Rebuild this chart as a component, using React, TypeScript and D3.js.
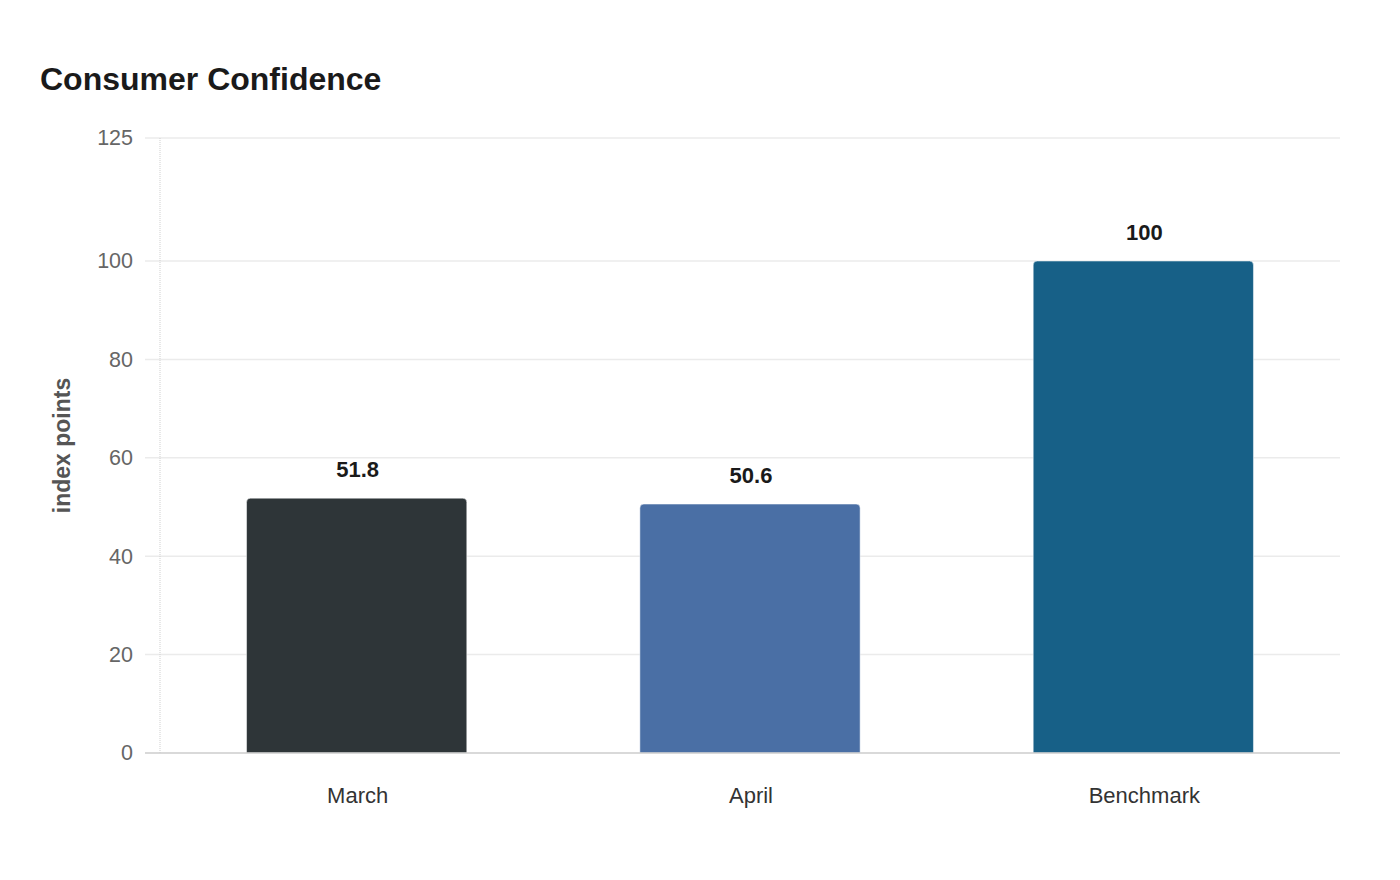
import React, { useEffect, useRef } from 'react';
import * as d3 from 'd3';

const categories = ['March', 'April', 'Benchmark'];
const values = [51.8, 50.6, 100];
const barColors = ['#2e3538', '#4a6fa5', '#176087'];
const yTicks = [0, 20, 40, 60, 80, 100, 125];

const WIDTH = 1400;
const HEIGHT = 880;
const FONT = '"Liberation Sans", Arial, sans-serif';

export default function App() {
  const svgRef = useRef<SVGSVGElement>(null);

  useEffect(() => {
    if (!svgRef.current) return;
    const svg = d3.select(svgRef.current);
    svg.selectAll('*').remove();

    const margin = { top: 138, right: 60, bottom: 127, left: 160 };
    const innerWidth = WIDTH - margin.left - margin.right;
    const innerHeight = HEIGHT - margin.top - margin.bottom;

    svg.append('rect').attr('width', WIDTH).attr('height', HEIGHT).attr('fill', '#ffffff');

    // Title
    svg.append('text')
      .attr('x', 40)
      .attr('y', 90)
      .attr('font-family', FONT)
      .attr('font-size', 32)
      .attr('font-weight', 'bold')
      .attr('fill', '#1a1a1a')
      .text('Consumer Confidence');

    const g = svg.append('g').attr('transform', `translate(${margin.left},${margin.top})`);

    const x = d3.scaleBand<string>()
      .domain(categories)
      .range([0, innerWidth])
      .paddingInner(0.44)
      .paddingOuter(0.22);

    const y = d3.scaleLinear().domain([0, 125]).range([innerHeight, 0]);

    // Grid lines
    g.append('g')
      .selectAll('line')
      .data(yTicks.filter(t => t !== 0))
      .enter()
      .append('line')
      .attr('x1', -15)
      .attr('x2', innerWidth)
      .attr('y1', d => y(d))
      .attr('y2', d => y(d))
      .attr('stroke', '#ebebeb')
      .attr('stroke-width', 1.5);

    // Y axis line (dotted, light)
    g.append('line')
      .attr('x1', 0)
      .attr('x2', 0)
      .attr('y1', 0)
      .attr('y2', innerHeight)
      .attr('stroke', '#cfcfcf')
      .attr('stroke-width', 1)
      .attr('stroke-dasharray', '1,1');

    // Y tick labels
    const yAxis = d3.axisLeft(y).tickValues(yTicks).tickSize(0).tickPadding(27);
    g.append('g')
      .call(yAxis)
      .call(sel => sel.select('.domain').remove())
      .call(sel => sel.selectAll('.tick text')
        .attr('fill', '#666666')
        .attr('font-size', 21.5)
        .attr('font-family', FONT));

    // Bars with rounded top corners
    const r = 4;
    g.append('g')
      .selectAll('path')
      .data(categories)
      .enter()
      .append('path')
      .attr('d', (c, i) => {
        const x0 = x(c) as number;
        const x1 = x0 + x.bandwidth();
        const y0 = y(values[i]);
        const yb = y(0);
        return `M${x0},${yb} L${x0},${y0 + r} Q${x0},${y0} ${x0 + r},${y0} L${x1 - r},${y0} Q${x1},${y0} ${x1},${y0 + r} L${x1},${yb} Z`;
      })
      .attr('fill', (_c, i) => barColors[i])
      .attr('stroke', '#ffffff')
      .attr('stroke-opacity', 0.5)
      .attr('stroke-width', 1);

    // Baseline
    g.append('line')
      .attr('x1', -15)
      .attr('x2', innerWidth)
      .attr('y1', y(0))
      .attr('y2', y(0))
      .attr('stroke', '#cccccc')
      .attr('stroke-width', 1.5);

    // Value labels
    g.append('g')
      .selectAll('text')
      .data(categories)
      .enter()
      .append('text')
      .attr('x', c => (x(c) as number) + x.bandwidth() / 2 + 1)
      .attr('y', (_c, i) => y(values[i]) - 21)
      .attr('text-anchor', 'middle')
      .attr('font-family', FONT)
      .attr('font-size', 22)
      .attr('font-weight', 'bold')
      .attr('fill', '#1a1a1a')
      .text((_c, i) => String(values[i]));

    // Category labels
    const xAxis = d3.axisBottom(x).tickSize(0).tickPadding(34);
    g.append('g')
      .attr('transform', `translate(1,${innerHeight})`)
      .call(xAxis)
      .call(sel => sel.select('.domain').remove())
      .call(sel => sel.selectAll('.tick text')
        .attr('fill', '#333333')
        .attr('font-size', 22)
        .attr('font-family', FONT));

    // Y axis title
    svg.append('text')
      .attr('transform', `translate(70,${margin.top + innerHeight / 2}) rotate(-90)`)
      .attr('text-anchor', 'middle')
      .attr('font-family', FONT)
      .attr('font-size', 23)
      .attr('font-weight', 'bold')
      .attr('fill', '#555555')
      .text('index points');
  }, []);

  return (
    <div style={{ margin: -8, width: WIDTH, height: HEIGHT }}>
      <svg ref={svgRef} width={WIDTH} height={HEIGHT} style={{ display: 'block' }} />
    </div>
  );
}
